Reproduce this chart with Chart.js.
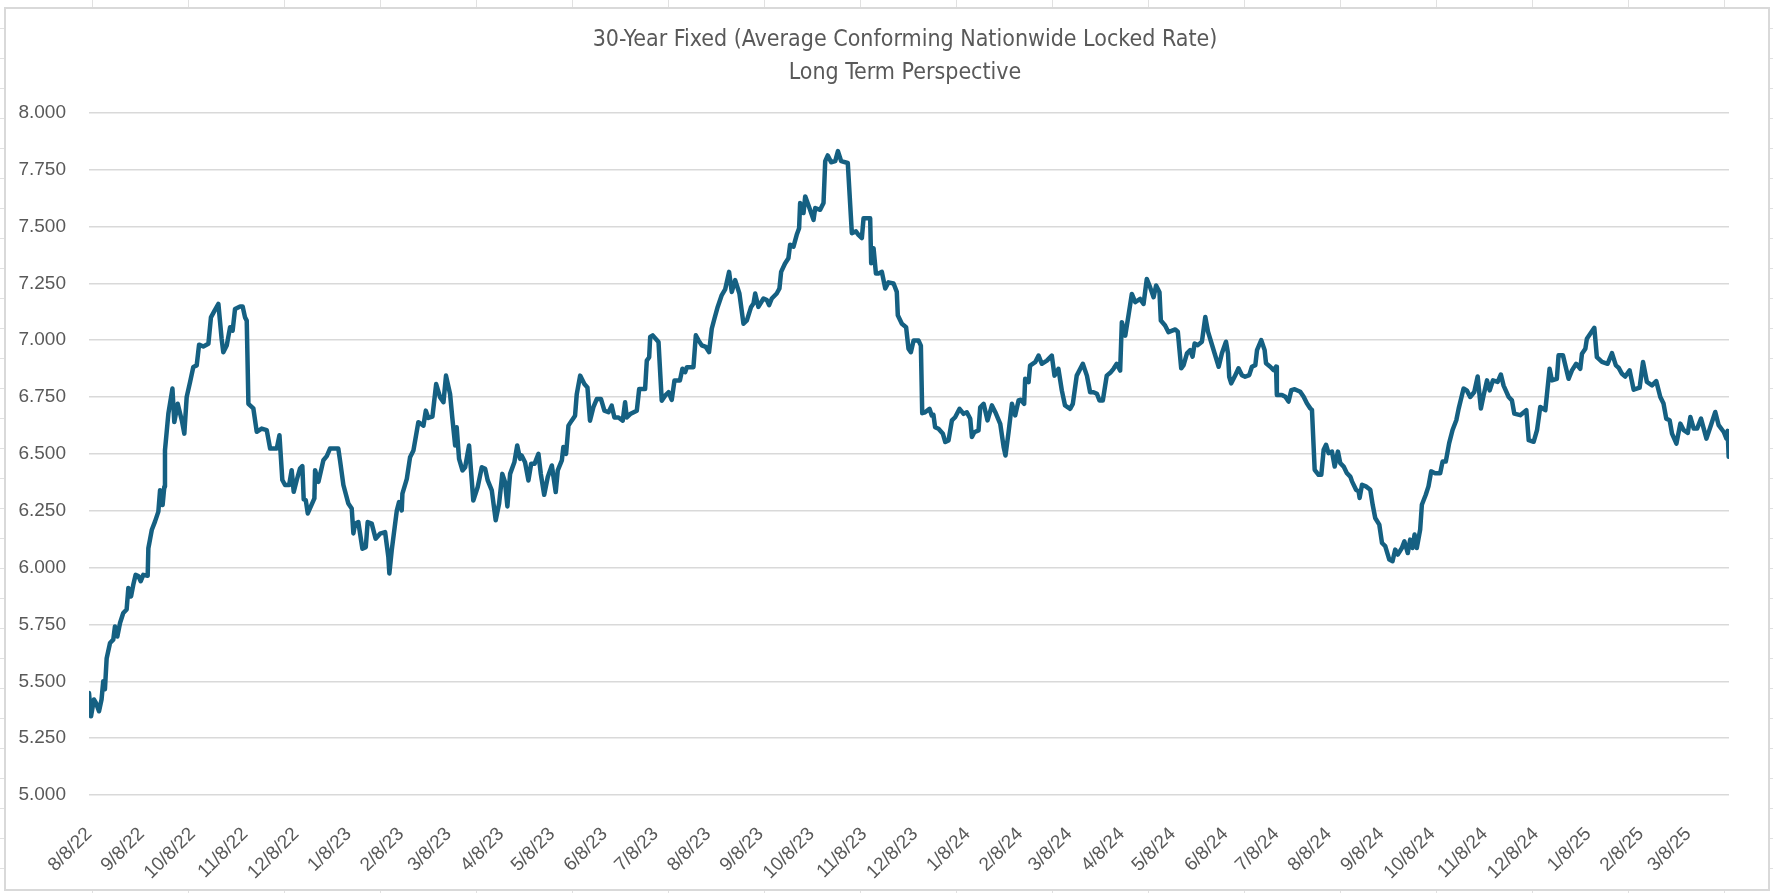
<!DOCTYPE html>
<html>
<head>
<meta charset="utf-8">
<title>30-Year Fixed - Long Term Perspective</title>
<script src="https://cdn.jsdelivr.net/npm/chart.js@4.4.1/dist/chart.umd.min.js"></script>
<style>
  html, body {
    margin: 0;
    padding: 0;
    width: 1773px;
    height: 893px;
    overflow: hidden;
    background-color: #ffffff;
    /* spreadsheet cells behind the chart */
    background-image:
      linear-gradient(to right, #e1e1e1 1px, transparent 1px),
      linear-gradient(to bottom, #e1e1e1 1px, transparent 1px);
    background-size: 96px 30px;
    background-position: 92px 28px;
  }
  .frame {
    position: absolute;
    left: 4px;
    top: 7px;
    width: 1766px;
    height: 884px;
    box-sizing: border-box;
    border: 2px solid #d9d9d9;
    background: #ffffff;
  }
  .chart-box {
    position: absolute;
    left: 0;
    top: 0;
    width: 1773px;
    height: 893px;
  }
</style>
</head>
<body>
<div class="frame"></div>
<div class="chart-box"><canvas id="rateChart"></canvas></div>
<script>
// Days counted from the first date in the series
const startDate = '8/8/22';

const tickLabels = [
    '8/8/22', '9/8/22', '10/8/22', '11/8/22', '12/8/22',
    '1/8/23', '2/8/23', '3/8/23', '4/8/23', '5/8/23', '6/8/23', '7/8/23',
    '8/8/23', '9/8/23', '10/8/23', '11/8/23', '12/8/23',
    '1/8/24', '2/8/24', '3/8/24', '4/8/24', '5/8/24', '6/8/24', '7/8/24',
    '8/8/24', '9/8/24', '10/8/24', '11/8/24', '12/8/24',
    '1/8/25', '2/8/25', '3/8/25'
];

const lastDay = 967;

const dayOffsets = [
    0, 1.2, 2.9, 4.1, 5.9, 7.4, 8.4, 9.4, 10.4, 12.4, 14.3, 15.3, 16.7, 18.3, 20.2, 22.2,
    23.2, 24.8, 26.1, 27.5, 29.1, 30.5, 32.0, 34.6, 35.0, 37.0, 38.9, 40.9, 41.9, 43.4,
    44.4, 44.8, 46.8, 49.2, 50.3, 52.3, 54.7, 56.2, 57.6, 59.6, 61.5, 63.5, 64.9, 67.4,
    70.4, 71.9, 74.3, 76.3, 78.2, 79.2, 81.2, 83.2, 84.7, 86.1, 89.1, 90.6, 92.0, 93.0,
    94.0, 96.9, 98.9, 101.8, 104.8, 106.8, 110.7, 112.3, 114.0, 115.6, 118.0, 119.5,
    120.7, 122.5, 124.4, 125.8, 126.6, 127.8, 129.0, 132.9, 133.3, 135.3, 138.2, 140.2,
    142.1, 147.0, 148.0, 150.0, 152.9, 154.9, 155.9,
    156.9, 158.8, 161.2, 163.2, 164.3, 166.7, 169.0, 171.6, 174.6, 176.5, 177.1, 178.5,
    181.5, 182.8, 184.4, 184.8, 187.4, 189.3, 191.3, 194.2, 197.2, 198.6, 200.1, 202.5,
    204.7, 207.0, 209.0, 210.5, 212.9, 214.2, 215.9, 216.8, 218.2, 220.2, 221.8, 224.1,
    226.6, 229.2, 231.6, 233.6, 235.1, 237.5, 239.8, 241.8, 243.7, 245.3, 246.7, 248.3,
    250.8, 252.5, 254.2, 255.1, 257.1, 259.1, 260.7, 262.7, 265.0, 266.4, 268.4, 270.5,
    272.9, 275.2, 276.4, 278.8, 279.7, 281.3, 282.7, 284.6, 286.6, 287.6, 289.6, 292.1,
    293.9, 295.4, 297.4, 299.4, 301.9, 303.9, 306.3, 308.2, 309.8, 312.2, 314.7,
    316.1, 317.1, 319.1, 323.0, 324.4, 327.9, 328.9, 330.3, 330.9, 332.4, 335.8, 337.7,
    339.7, 341.7, 343.6, 345.2, 348.4, 349.9, 351.5, 352.5, 356.4, 357.8, 359.4, 361.3,
    363.7, 365.6, 367.2, 368.8, 370.7, 373.1, 375.1, 377.4, 379.0, 381.0, 383.5, 385.9,
    387.9, 390.4, 391.8, 392.8, 394.7, 397.7, 399.7, 401.0, 402.6, 405.5, 407.1, 408.1,
    410.4, 412.4, 413.4, 415.4, 417.3, 418.7, 419.3, 421.3, 422.3, 424.8, 427.2, 428.2,
    431.1, 433.1, 434.1, 435.6, 437.6, 440.0, 441.6, 443.5, 447.4, 449.8, 452.2, 453.7,
    455.7, 456.7, 460.6, 461.2, 462.6, 464.0, 465.5, 467.5, 469.5, 471.4, 474.4, 476.3,
    476.9, 479.3,
    481.8, 483.2, 484.6, 486.2, 489.1, 490.5, 491.3, 493.0, 495.6, 496.9, 497.9, 498.9,
    500.9, 503.5, 504.9, 506.8, 508.8, 510.7, 513.3, 515.7, 517.6, 519.6, 520.6, 522.0,
    524.5, 525.5, 527.5, 529.8, 532.4, 534.4, 537.3, 539.3, 540.4, 542.2, 544.2, 546.1,
    548.1, 549.4, 551.4, 552.0, 554.0, 554.9, 557.9, 559.9, 561.8, 564.8, 567.7, 569.3,
    571.6, 573.6, 575.5, 578.5, 580.1, 582.4, 586.0, 588.4, 590.3, 592.3, 594.3, 595.8,
    597.8, 600.1, 602.5, 604.1, 606.0, 608.0, 609.0, 611.0, 612.9, 614.9, 616.9, 619.8,
    621.8, 623.7, 625.7, 627.7, 629.2, 631.2, 632.0, 634.5, 636.5,
    640.5, 642.0, 644.0, 645.4, 647.4, 649.3, 650.7, 651.9, 653.8, 656.2, 658.2, 659.8,
    662.5, 666.1, 668.0, 670.4, 671.6, 672.3, 673.5, 675.9, 677.8, 679.8, 681.7, 684.1,
    685.7, 687.7, 688.7, 691.2, 693.2, 694.0, 696.5, 698.5, 699.9, 700.4, 703.4, 705.4,
    707.3, 708.9, 710.9, 714.2, 716.2, 718.1, 720.1, 721.1, 722.7, 725.0, 726.6, 728.0,
    729.4, 730.9, 732.9, 734.5, 736.4, 737.8, 739.8, 741.7, 743.7, 744.7, 747.1, 748.6,
    749.2, 750.6, 752.9, 755.5, 756.9, 758.4, 760.8, 762.4, 764.3, 766.7, 768.6, 770.2,
    771.7, 774.1, 775.6, 777.6, 779.0, 780.4, 781.6, 782.9, 784.9, 785.9, 788.2, 789.8,
    791.4, 793.7, 796.7, 798.1, 800.0, 802.0, 804.0,
    806.2, 807.6, 810.5, 812.4, 814.4, 816.8, 818.8, 820.7, 822.3, 824.3, 825.9, 827.8,
    830.6, 832.5, 834.1, 837.1, 839.0, 840.4, 843.9, 847.5, 848.9, 851.8, 853.8, 855.7,
    858.7, 861.2, 862.6, 865.5, 866.5, 869.1, 872.4, 874.4, 876.9, 879.3, 880.3, 882.3,
    883.2, 887.6, 889.1, 892.1, 895.4, 898.0, 900.3, 901.9, 903.9, 905.8, 908.4, 910.8,
    914.3, 916.3, 918.6, 921.6, 924.1, 926.5, 928.4, 930.0, 932.0, 933.4, 936.0, 938.3,
    940.3, 942.7, 944.2, 946.2, 948.2, 950.5, 953.7, 956.0, 958.9, 960.9, 963.9, 965.5,
    966.2, 966.8
];

const rates = [
    5.449, 5.346, 5.420, 5.405, 5.368, 5.420, 5.500, 5.465, 5.600, 5.668, 5.683, 5.741, 5.697, 5.756, 5.800, 5.816,
    5.910, 5.873, 5.924, 5.968, 5.963, 5.940, 5.968, 5.964, 6.085, 6.165, 6.202, 6.246, 6.340, 6.275,
    6.355, 6.516, 6.677, 6.787, 6.640, 6.720, 6.648, 6.589, 6.750, 6.816, 6.882, 6.889, 6.980, 6.972,
    6.984, 7.100, 7.133, 7.159, 7.006, 6.947, 6.976, 7.057, 7.042, 7.137, 7.148, 7.148, 7.100, 7.086,
    6.720, 6.700, 6.597, 6.611, 6.604, 6.523, 6.523, 6.582, 6.385, 6.363, 6.363, 6.428,
    6.333, 6.385, 6.435, 6.446, 6.300, 6.297, 6.238, 6.304, 6.428, 6.377, 6.472, 6.490,
    6.523, 6.523, 6.472, 6.363, 6.282, 6.260, 6.150,
    6.193, 6.200, 6.083, 6.090, 6.200, 6.193, 6.127, 6.149, 6.156, 6.047, 5.974, 6.076,
    6.251, 6.288, 6.251, 6.325, 6.390, 6.485, 6.515, 6.639, 6.624, 6.690, 6.658, 6.664,
    6.807, 6.749, 6.727, 6.844, 6.763, 6.660, 6.537, 6.617, 6.478, 6.427, 6.441, 6.537,
    6.295, 6.354, 6.441, 6.434, 6.383, 6.339, 6.208, 6.281, 6.412, 6.376, 6.269, 6.412,
    6.463, 6.537, 6.478, 6.493, 6.463, 6.383, 6.456, 6.456, 6.500, 6.412, 6.320, 6.398,
    6.449, 6.332, 6.427, 6.471, 6.530, 6.500, 6.624, 6.646, 6.668, 6.763, 6.844, 6.807,
    6.792, 6.646, 6.705, 6.741, 6.741, 6.690, 6.683, 6.712, 6.660, 6.660, 6.646,
    6.727, 6.660, 6.675, 6.690, 6.785, 6.785, 6.910, 6.925, 7.014, 7.021, 6.992, 6.734,
    6.756, 6.771, 6.737, 6.822, 6.822, 6.874, 6.859, 6.881, 6.881, 7.021, 6.999, 6.977,
    6.970, 6.947, 7.050, 7.095, 7.146, 7.198, 7.223, 7.300, 7.212, 7.264, 7.205, 7.072,
    7.087, 7.146, 7.161, 7.205, 7.146, 7.183, 7.176, 7.154, 7.183, 7.205, 7.227, 7.300,
    7.337, 7.360, 7.419, 7.411, 7.463, 7.492, 7.603, 7.559, 7.632, 7.581, 7.529, 7.581,
    7.573, 7.603, 7.787, 7.812, 7.782, 7.787, 7.831, 7.787, 7.779, 7.470, 7.478, 7.463,
    7.449, 7.536, 7.536, 7.338, 7.404, 7.293, 7.293, 7.300, 7.227, 7.254, 7.249, 7.212,
    7.109, 7.072,
    7.057, 6.962, 6.947, 6.998, 6.998, 6.976, 6.679, 6.683, 6.698, 6.669, 6.672, 6.617,
    6.610, 6.588, 6.552, 6.559, 6.647, 6.661, 6.698, 6.676, 6.683, 6.654, 6.574, 6.595,
    6.603, 6.705, 6.720, 6.647, 6.713, 6.683, 6.632, 6.530, 6.493, 6.595, 6.720, 6.669,
    6.735, 6.738, 6.720, 6.830, 6.815, 6.888, 6.903, 6.932, 6.896, 6.910, 6.932, 6.844,
    6.874, 6.779, 6.713, 6.698, 6.720, 6.844, 6.896, 6.844, 6.771, 6.771, 6.764, 6.735,
    6.735, 6.844, 6.859, 6.874, 6.896, 6.866, 7.079, 7.020, 7.108, 7.203, 7.167, 7.181,
    7.159, 7.269, 7.232, 7.189, 7.240, 7.210, 7.086, 7.064, 7.035,
    7.047, 7.037, 6.876, 6.890, 6.942, 6.956, 6.927, 6.985, 6.978, 6.993, 7.102, 7.037,
    6.971, 6.883, 6.942, 6.993, 6.942, 6.839, 6.810, 6.846, 6.876, 6.846, 6.839, 6.846,
    6.883, 6.890, 6.956, 7.000, 6.956, 6.898, 6.883, 6.868, 6.883, 6.759, 6.759, 6.751,
    6.730, 6.780, 6.784, 6.773, 6.751, 6.722, 6.700, 6.693, 6.430, 6.408, 6.408, 6.518,
    6.540, 6.503, 6.510, 6.444, 6.510, 6.459, 6.444, 6.415, 6.400, 6.379, 6.342, 6.335,
    6.306, 6.364, 6.357, 6.342, 6.276, 6.218, 6.189, 6.108, 6.094, 6.035, 6.028, 6.079,
    6.057, 6.086, 6.115, 6.064, 6.123, 6.086, 6.145, 6.086, 6.167, 6.276, 6.320, 6.357,
    6.423, 6.415, 6.415, 6.466, 6.466, 6.547, 6.605,
    6.648, 6.699, 6.787, 6.779, 6.750, 6.772, 6.840, 6.699, 6.757, 6.823, 6.779, 6.823,
    6.816, 6.849, 6.800, 6.750, 6.735, 6.677, 6.670, 6.692, 6.560, 6.553, 6.604, 6.706,
    6.692, 6.874, 6.823, 6.830, 6.933, 6.933, 6.830, 6.867, 6.896, 6.874, 6.940, 6.962,
    7.006, 7.054, 6.925, 6.904, 6.896, 6.943, 6.889, 6.879, 6.852, 6.840, 6.867, 6.782,
    6.791, 6.904, 6.816, 6.801, 6.820, 6.750, 6.721, 6.655, 6.648, 6.589, 6.545, 6.633,
    6.604, 6.592, 6.662, 6.611, 6.611, 6.655, 6.567, 6.618, 6.684, 6.626, 6.596, 6.567,
    6.601, 6.487
];

const titleLines = [
    '30-Year Fixed (Average Conforming Nationwide Locked Rate)',
    'Long Term Perspective'
];

function toDayOffset(label) {
    const [m, d, y] = label.split('/').map(Number);
    const [m0, d0, y0] = startDate.split('/').map(Number);
    return Math.round((Date.UTC(2000 + y, m - 1, d) - Date.UTC(2000 + y0, m0 - 1, d0)) / 86400000);
}

const tickDays = tickLabels.map(toDayOffset);

const textColor = '#595959';
const tickFont = { family: "'Liberation Sans', Arial, sans-serif", size: 19 };

// Excel centres the title over the plot, not the whole canvas
const titleOverPlot = {
    id: 'titleOverPlot',
    afterLayout(chart) {
        const area = chart.chartArea;
        if (chart.titleBlock) {
            chart.titleBlock.left = area.left - 8;
            chart.titleBlock.right = area.right;
        }
    }
};

const ctx = document.getElementById('rateChart').getContext('2d');

new Chart(ctx, {
    type: 'line',
    data: {
        datasets: [{
            label: '30-Year Fixed',
            data: dayOffsets.map((d, i) => ({ x: d, y: rates[i] })),
            borderColor: '#156082',
            borderWidth: 4.5,
            borderJoinStyle: 'round',
            borderCapStyle: 'round',
            pointRadius: 0,
            tension: 0,
            fill: false
        }]
    },
    plugins: [titleOverPlot],
    options: {
        responsive: true,
        maintainAspectRatio: false,
        animation: false,
        devicePixelRatio: 1,
        layout: {
            padding: { left: 0, right: 44, top: 0, bottom: 0 }
        },
        plugins: {
            legend: {
                display: false
            },
            tooltip: {
                enabled: false
            },
            title: {
                display: true,
                text: titleLines,
                color: textColor,
                font: {
                    family: "'Liberation Sans Narrow', 'DejaVu Sans Condensed', sans-serif",
                    size: 23,
                    weight: 'normal',
                    lineHeight: 1.45
                },
                padding: { top: 23, bottom: 23 }
            }
        },
        scales: {
            x: {
                type: 'linear',
                min: 0,
                max: lastDay,
                afterBuildTicks: function(scale) {
                    scale.ticks = tickDays.map(v => ({ value: v }));
                },
                afterFit: function(scale) {
                    scale.height = 98;
                },
                ticks: {
                    autoSkip: false,
                    minRotation: 45,
                    maxRotation: 45,
                    padding: 20,
                    color: textColor,
                    font: tickFont,
                    callback: function(value, index) {
                        return tickLabels[index];
                    }
                },
                grid: {
                    display: false
                },
                border: {
                    display: false
                }
            },
            y: {
                min: 5,
                max: 8,
                afterFit: function(scale) {
                    scale.width = 89;
                },
                ticks: {
                    stepSize: 0.25,
                    padding: 23,
                    color: textColor,
                    font: tickFont,
                    callback: function(value) {
                        return value.toFixed(3);
                    }
                },
                grid: {
                    color: '#d9d9d9',
                    lineWidth: 1.5,
                    drawTicks: false
                },
                border: {
                    display: false
                }
            }
        }
    }
});
</script>
</body>
</html>
